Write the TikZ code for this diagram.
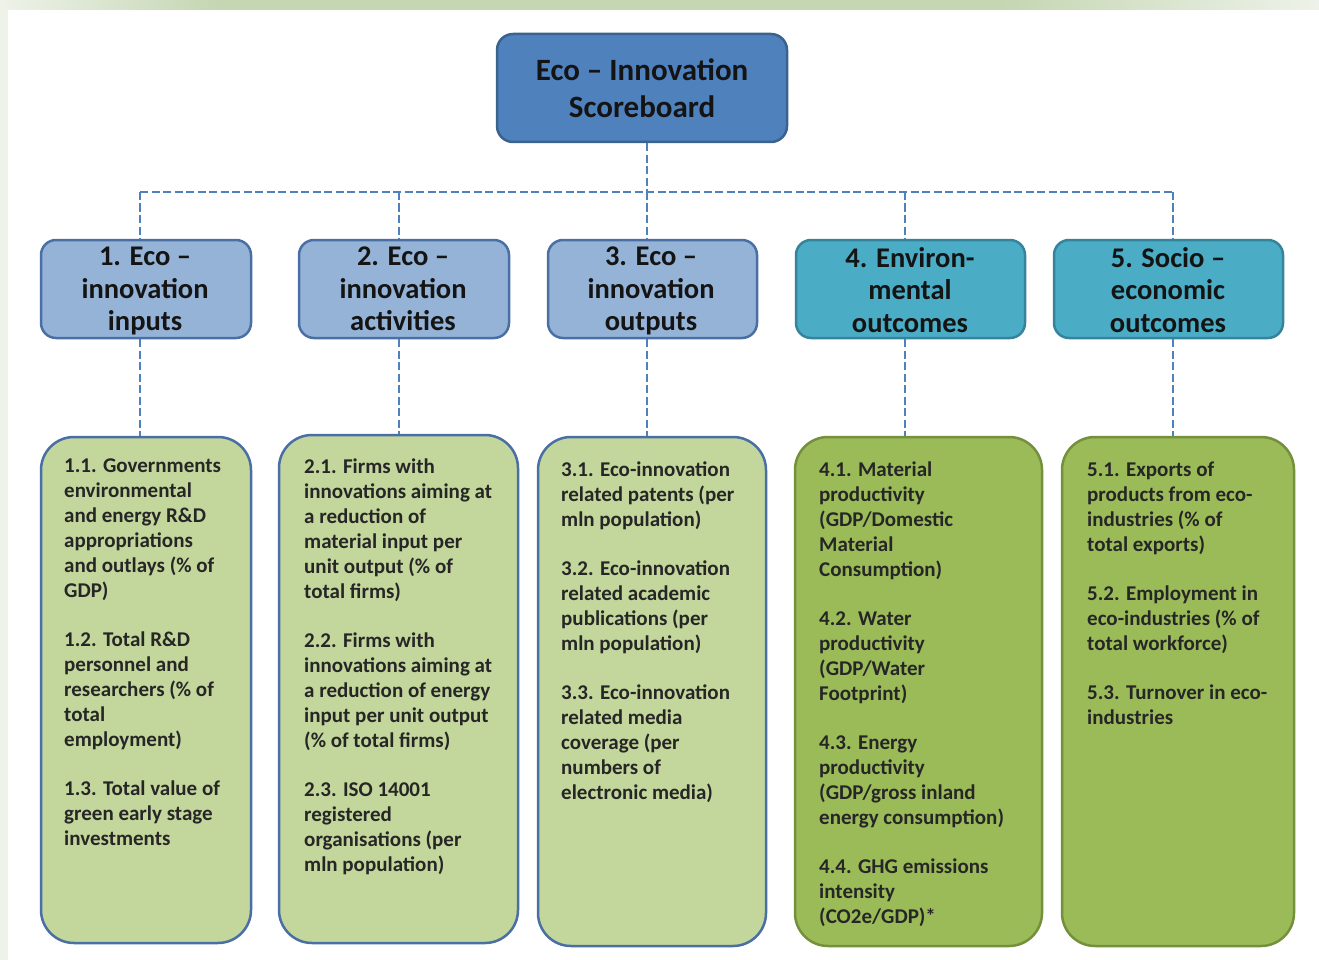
\documentclass[tikz,border=0pt]{standalone}
\usepackage{fontspec}
\setmainfont{Carlito}
\definecolor{titlefill}{HTML}{4F81BD}
\definecolor{titleedge}{HTML}{3A628F}
\definecolor{hdrAfill}{HTML}{95B3D7}
\definecolor{hdrAedge}{HTML}{4A6FA5}
\definecolor{hdrBfill}{HTML}{4BACC6}
\definecolor{hdrBedge}{HTML}{36849B}
\definecolor{listAfill}{HTML}{C3D69B}
\definecolor{listAedge}{HTML}{4A6FA5}
\definecolor{listBfill}{HTML}{9BBB59}
\definecolor{listBedge}{HTML}{74903C}
\definecolor{connblue}{HTML}{4F81BD}
\definecolor{bandlight}{HTML}{EEF2E9}
\definecolor{bandgreen}{HTML}{C4D6B2}
\definecolor{txtdark}{HTML}{262626}
\begin{document}
\begin{tikzpicture}[x=1pt,y=-1pt,
  boxbase/.style={line width=2.5pt, inner sep=0pt},
  titlebox/.style={boxbase, draw=titleedge, fill=titlefill, rounded corners=16pt},
  hdrA/.style={boxbase, draw=hdrAedge, fill=hdrAfill, rounded corners=15pt, minimum height=98pt},
  hdrB/.style={boxbase, draw=hdrBedge, fill=hdrBfill, rounded corners=15pt, minimum height=98pt},
  listA/.style={boxbase, draw=listAedge, fill=listAfill, rounded corners=33pt},
  listB/.style={boxbase, draw=listBedge, fill=listBfill, rounded corners=33pt},
  conn/.style={draw=connblue, line width=2.2pt, dash pattern=on 8pt off 3.5pt},
  titletxt/.style={font=\bfseries\fontsize{31}{37}\selectfont, align=center, inner sep=0pt, anchor=north, text=black!92, execute at begin node=\rule{0pt}{28pt}},
  hdrtxt/.style={font=\bfseries\fontsize{28.5}{32.5}\selectfont, align=center, inner sep=0pt, anchor=north, text=black!92, execute at begin node=\rule{0pt}{25pt}},
  listtxt/.style={font=\bfseries\fontsize{21}{25}\selectfont, align=left, inner sep=0pt, anchor=north west, text=txtdark, execute at begin node=\rule{0pt}{20pt}}
]
\useasboundingbox (0,0) rectangle (1319,960);
% background
\fill[white] (0,0) rectangle (1319,960);
\shade[left color=bandlight, right color=bandgreen] (0,0) rectangle (220,10);
\fill[bandgreen] (219,0) rectangle (1001,10);
\shade[left color=bandgreen, right color=bandlight] (1000,0) rectangle (1319,10);
\fill[bandlight] (0,10) rectangle (8,960);

% title
\node[titlebox, minimum width=290pt, minimum height=108pt] (title) at (642,88) {};
\node[titletxt] (titlet) at (642,59) {Eco -- Innovation\\Scoreboard};

% headers
\node[hdrA, minimum width=210pt] (h1) at (146,289) {};
\node[hdrA, minimum width=210pt] (h2) at (404,289) {};
\node[hdrA, minimum width=209pt] (h3) at (652.5,289) {};
\node[hdrB, minimum width=229pt] (h4) at (910.5,289) {};
\node[hdrB, minimum width=229pt] (h5) at (1168.5,289) {};
\node[hdrtxt] (h1t) at (145,247) {1. Eco --\\innovation\\inputs};
\node[hdrtxt] (h2t) at (403,247) {2. Eco --\\innovation\\activities};
\node[hdrtxt] (h3t) at (651,247) {3. Eco --\\innovation\\outputs};
\node[hdrtxt] (h4t) at (910,247) {4. Environ-\\mental\\outcomes};
\node[hdrtxt] (h5t) at (1168,247) {5. Socio --\\economic\\outcomes};

% indicator boxes
\node[listA, minimum width=210pt, minimum height=506pt] (g1) at (146,690) {};
\node[listA, minimum width=239pt, minimum height=508pt] (g2) at (398.5,689) {};
\node[listA, minimum width=228pt, minimum height=509pt] (g3) at (652,691.5) {};
\node[listB, minimum width=247pt, minimum height=509pt] (g4) at (918.5,691.5) {};
\node[listB, minimum width=232pt, minimum height=509pt] (g5) at (1178,691.5) {};

\node[listtxt] (g1t) at (64,459) {1.1. Governments\\environmental\\and energy R\&D\\appropriations\\and outlays (\% of\\GDP)\\[24pt]1.2. Total R\&D\\personnel and\\researchers (\% of\\total\\employment)\\[24pt]1.3. Total value of\\green early stage\\investments};
\node[listtxt] (g2t) at (304,459) {2.1. Firms with\\innovations aiming at\\a reduction of\\material input per\\unit output (\% of\\total firms)\\[24pt]2.2. Firms with\\innovations aiming at\\a reduction of energy\\input per unit output\\(\% of total firms)\\[24pt]2.3. ISO 14001\\registered\\organisations (per\\mln population)};
\node[listtxt] (g3t) at (561,462) {3.1. Eco-innovation\\related patents (per\\mln population)\\[24pt]3.2. Eco-innovation\\related academic\\publications (per\\mln population)\\[24pt]3.3. Eco-innovation\\related media\\coverage (per\\numbers of\\electronic media)};
\node[listtxt] (g4t) at (819,462) {4.1. Material\\productivity\\(GDP/Domestic\\Material\\Consumption)\\[24pt]4.2. Water\\productivity\\(GDP/Water\\Footprint)\\[24pt]4.3. Energy\\productivity\\(GDP/gross inland\\energy consumption)\\[24pt]4.4. GHG emissions\\intensity\\(CO2e/GDP)*};
\node[listtxt] (g5t) at (1087,462) {5.1. Exports of\\products from eco-\\industries (\% of\\total exports)\\[24pt]5.2. Employment in\\eco-industries (\% of\\total workforce)\\[24pt]5.3. Turnover in eco-\\industries};

% connectors
\coordinate (b1) at (140,192);
\coordinate (b2) at (399,192);
\coordinate (b3) at (647,192);
\coordinate (b4) at (905,192);
\coordinate (b5) at (1173,192);
\draw[conn] (title.south -| b3) -- (b3);
\draw[conn] (b1) -- (b5);
\foreach \i in {1,...,5} {
  \draw[conn] (b\i) -- (h\i.north -| b\i);
  \draw[conn] (h\i.south -| b\i) -- (g\i.north -| b\i);
}
\end{tikzpicture}
\end{document}
